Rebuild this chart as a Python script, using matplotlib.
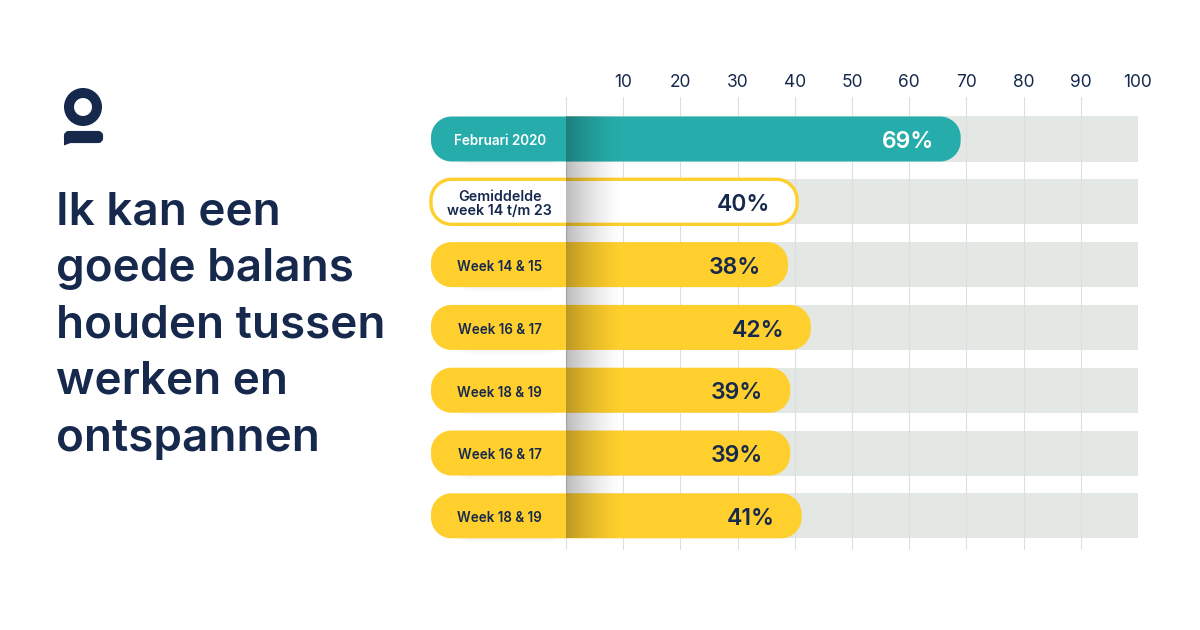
import matplotlib
matplotlib.use("Agg")
import matplotlib.pyplot as plt
import numpy as np
from matplotlib.patches import Circle, FancyBboxPatch, Polygon, Rectangle

NAVY = "#16294d"
TEAL = "#26adab"
YELLOW = "#ffcf2d"
TRACK = "#e4e8e5"
GRID = "#dcdfdd"

title_lines = ["Ik kan een", "goede balans", "houden tussen", "werken en", "ontspannen"]
labels = ["Februari 2020", "Gemiddelde\nweek 14 t/m 23", "Week 14 & 15", "Week 16 & 17",
          "Week 18 & 19", "Week 16 & 17", "Week 18 & 19"]
values = [69, 40, 38, 42, 39, 39, 41]
bar_ends = [69.0, 40.4, 38.8, 42.8, 39.2, 39.2, 41.2]
ticks = [10, 20, 30, 40, 50, 60, 70, 80, 90, 100]

PX = 5.72       # pixels per percent
ROW = 10.98     # row spacing in axis units
BAR_H = 7.87
BAR_LEFT = -23.6
RADIUS = 3.6


def pill(x0, x1, y, height, radius, **kw):
    # rectangle with true circular corners, y axis points down
    t = np.linspace(0, np.pi / 2, 16)
    top, bottom = y - height / 2, y + height / 2
    pts = []
    pts += list(zip(x1 - radius + radius * np.sin(t), top + radius - radius * np.cos(t)))
    pts += list(zip(x1 - radius + radius * np.cos(t), bottom - radius + radius * np.sin(t)))
    pts += list(zip(x0 + radius - radius * np.sin(t), bottom - radius + radius * np.cos(t)))
    pts += list(zip(x0 + radius - radius * np.cos(t), top + radius - radius * np.sin(t)))
    return Polygon(pts, closed=True, clip_on=False, **kw)


plt.rcParams["font.family"] = ["Inter", "DejaVu Sans"]

fig = plt.figure(figsize=(12, 6.3), dpi=100, facecolor="white")

# page layer in pixel coordinates, for the logo and the title
bg = fig.add_axes([0, 0, 1, 1])
bg.set_xlim(0, 1200)
bg.set_ylim(630, 0)
bg.axis("off")
bg.add_patch(Circle((83, 107), 14, fc="none", ec=NAVY, lw=7.2))
bg.add_patch(FancyBboxPatch((66, 133), 35, 8, boxstyle="round,pad=0,rounding_size=3", fc=NAVY, ec=NAVY, lw=3))
bg.add_patch(Polygon([(64, 136), (64, 145.5), (73, 142)], fc=NAVY, ec="none"))
for i, line in enumerate(title_lines):
    bg.text(56, 212.5 + i * 56.5, line, fontsize=33, fontweight="semibold", color=NAVY, va="center", ha="left")

# chart layer, 1 unit is one percent in both directions
ax = fig.add_axes([431 / 1200, 1 - 550 / 630, (1138 - 431) / 1200, (550 - 97) / 630])
ax.patch.set_alpha(0)
rows = np.arange(len(values)) * ROW

for v in [0] + ticks:
    ax.axvline(v, color=GRID, lw=0.8, zorder=1)

for i, (y, end, value, label) in enumerate(zip(rows, bar_ends, values, labels)):
    ax.add_patch(Rectangle((0, y - BAR_H / 2), 100, BAR_H, fc=TRACK, ec="none", zorder=0))
    # soft shadow under the left part of the bar
    for k in range(5):
        ax.add_patch(pill(BAR_LEFT + 3.5, BAR_LEFT + 23.5, y + 0.2 + k * 0.15, BAR_H, RADIUS,
                          fc="#000000", ec="none", alpha=0.008, zorder=2))
    if i == 1:
        face, edge, lw = "white", YELLOW, 2.4
    elif i == 0:
        face, edge, lw = TEAL, "none", 0
    else:
        face, edge, lw = YELLOW, "none", 0
    ax.add_patch(pill(BAR_LEFT, end, y, BAR_H, RADIUS, fc=face, ec=edge, lw=lw, zorder=3))
    text_color = "white" if i == 0 else NAVY
    ax.text(-11.6, y + 0.4, label, fontsize=10.3 if i == 1 else 9.7, fontweight="semibold", color=text_color,
            ha="center", va="center", linespacing=1.05, zorder=5)
    ax.text(end - 4.7, y + 0.55, f"{value}%", fontsize=16.5, fontweight="semibold", color=text_color,
            ha="right", va="center", zorder=5)

# shading where the label column meets the scale
shade = np.zeros((1, 120, 4))
shade[0, :, 3] = 0.27 * np.linspace(1, 0, 120) ** 1.5
ax.imshow(shade, extent=(0, 10, rows[-1] + BAR_H / 2, rows[0] - BAR_H / 2), aspect="auto", zorder=4,
          interpolation="bilinear")

ax.set_xlim(BAR_LEFT, 100)
ax.set_ylim((550 - 139) / PX, -(139 - 97) / PX)
ax.set_aspect("equal")
ax.set_xticks(ticks)
ax.set_yticks([])
ax.xaxis.tick_top()
ax.tick_params(axis="x", length=0, pad=4.6, labelsize=12.5, labelcolor=NAVY)
for side in ax.spines.values():
    side.set_visible(False)

fig.savefig("out.png", dpi=100)
